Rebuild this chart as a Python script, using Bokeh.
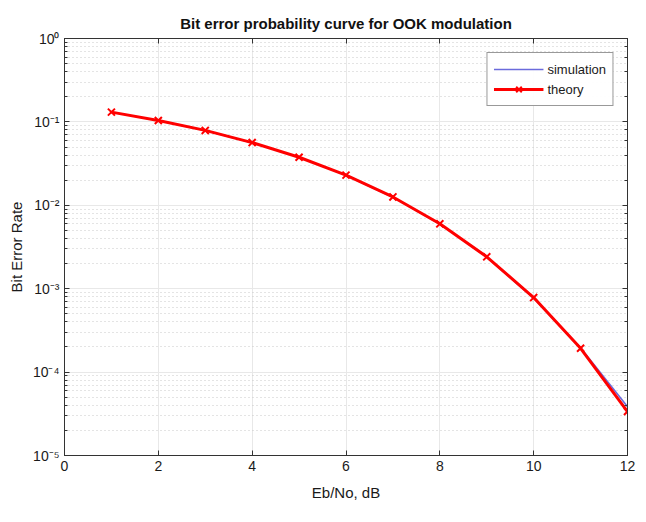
from bokeh.plotting import figure
from bokeh.models import Range1d, LogAxis, LinearAxis, CustomJSTickFormatter, Legend, LegendItem, FixedTicker
from bokeh.embed import file_html
from bokeh.resources import INLINE

ebno_db = [1, 2, 3, 4, 5, 6, 7, 8, 9, 10, 11, 12]
ber_sim = [0.131, 0.104, 0.0788, 0.0563, 0.0377, 0.0229, 0.0125, 0.00597, 0.00240, 0.000770, 0.000196, 0.0000385]
ber_theory = [0.131, 0.104, 0.0791, 0.0565, 0.0377, 0.0230, 0.0126, 0.00600, 0.00241, 0.000783, 0.000193, 0.0000337]
x_ticks = [0, 2, 4, 6, 8, 10, 12]

FONT = "Liberation Sans"
TXT = "#1a1a1a"

p = figure(width=646, height=522, y_axis_type="log", output_backend="svg",
           toolbar_location=None, x_range=Range1d(0, 12), y_range=Range1d(1e-5, 1),
           min_border_left=64, min_border_right=19, min_border_top=38, min_border_bottom=67)

p.title.text = "Bit error probability curve for OOK modulation"
p.title.align = "center"
p.title.text_font = FONT
p.title.text_font_size = "15px"
p.title.text_font_style = "bold"
p.title.text_color = "#111111"
p.title.offset = 40
p.title.standoff = 14

sup = CustomJSTickFormatter(code="""
const m = {'-':'\u207B','0':'\u2070','1':'\u00B9','2':'\u00B2','3':'\u00B3','4':'\u2074','5':'\u2075','6':'\u2076','7':'\u2077','8':'\u2078','9':'\u2079'};
const e = Math.round(Math.log10(tick)).toString();
let s = '';
for (const c of e) s += m[c];
return '10' + s;
""")
blank = CustomJSTickFormatter(code="return '';")

p.yaxis.formatter = sup
p.yaxis.ticker.desired_num_ticks = 6
p.xaxis.ticker = FixedTicker(ticks=x_ticks)

for ax in [p.xaxis[0], p.yaxis[0]]:
    ax.major_label_text_font = FONT
    ax.major_label_text_font_size = "14px"
    ax.major_label_text_color = TXT
    ax.axis_label_text_font = FONT
    ax.axis_label_text_font_size = "15px"
    ax.axis_label_text_font_style = "normal"
    ax.axis_label_text_color = TXT
    ax.major_tick_in = 5
    ax.major_tick_out = 0
    ax.minor_tick_in = 3
    ax.minor_tick_out = 0
    ax.axis_line_color = "#333333"
    ax.major_tick_line_color = "#333333"
    ax.minor_tick_line_color = "#333333"
p.xaxis.minor_tick_line_color = None
p.xaxis.axis_label = "Eb/No, dB"
p.xaxis.axis_label_standoff = 10
p.yaxis.axis_label = "Bit Error Rate"

# mirrored axes (box)
ra = LogAxis(formatter=blank, major_tick_in=5, major_tick_out=0,
             minor_tick_in=3, minor_tick_out=0, axis_line_color="#333333",
             major_tick_line_color="#333333", minor_tick_line_color="#333333",
             major_label_standoff=0)
ra.ticker.desired_num_ticks = 6
p.add_layout(ra, "right")
ta = LinearAxis(ticker=FixedTicker(ticks=x_ticks), formatter=blank, major_tick_in=5,
                major_tick_out=0, minor_tick_line_color=None, axis_line_color="#333333",
                major_tick_line_color="#333333", major_label_standoff=0)
p.add_layout(ta, "above")

p.xgrid.grid_line_color = "#e8e8e8"
p.ygrid.grid_line_color = "#e8e8e8"
p.ygrid.minor_grid_line_color = "#c8c8c8"
p.ygrid.minor_grid_line_dash = "1 3"
p.outline_line_color = "#333333"

r_sim = p.line(ebno_db, ber_sim, line_color="#6b6bdc", line_width=1.5)
r_th = p.line(ebno_db, ber_theory, line_color="#ff0000", line_width=3)
r_mk = p.scatter(ebno_db, ber_theory, marker="x", size=10, line_color="#ff0000", line_width=2)

legend = Legend(items=[LegendItem(label="simulation", renderers=[r_sim]),
                       LegendItem(label="theory", renderers=[r_th, r_mk])],
                location="top_right", label_text_font=FONT, label_text_font_size="13px",
                label_text_color=TXT, border_line_color="#333333", glyph_width=50,
                spacing=0, padding=6, margin=14, label_height=20, glyph_height=20,
                label_standoff=4)
p.add_layout(legend)

open("out.html", "w").write(file_html(p, INLINE))
